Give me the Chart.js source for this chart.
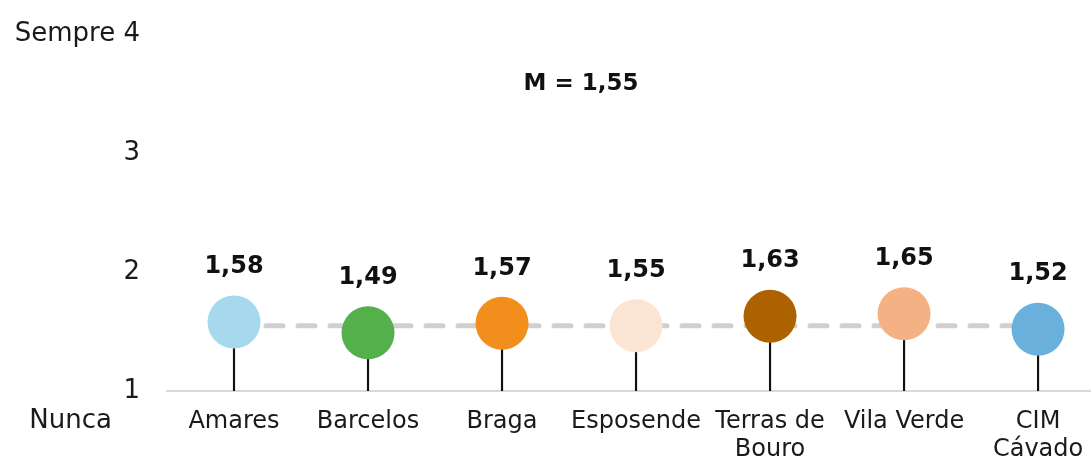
<!DOCTYPE html>
<html>
<head>
<meta charset="utf-8">
<script src="https://cdn.jsdelivr.net/npm/chart.js@4/dist/chart.umd.min.js"></script>
<style>
html,body{margin:0;padding:0;background:#fff;overflow:hidden;}
#wrap{width:1091px;height:459px;position:relative;}
</style>
</head>
<body>
<div id="wrap"><canvas id="c" width="1091" height="459"></canvas></div>
<script>
const categories = [["Amares"],["Barcelos"],["Braga"],["Esposende"],["Terras de","Bouro"],["Vila Verde"],["CIM","Cávado"]];
const values = [1.58, 1.49, 1.57, 1.55, 1.63, 1.65, 1.52];
const valueLabels = ["1,58","1,49","1,57","1,55","1,63","1,65","1,52"];
const colors = ["#a6d8ee","#53b04b","#f28e1c","#fce4d4","#ad6200","#f4b183","#6ab0dc"];
const meanValue = 1.55;
const meanLabel = "M = 1,55";
const yTicks = [1,2,3,4];
const yTickLabels = {1:"1",2:"2",3:"3",4:"Sempre 4"};
const bottomLabel = "Nunca";

const FONT = "'DejaVu Sans', sans-serif";

const textPlugin = {
  id: 'texts',
  afterDatasetsDraw(chart) {
    const ctx = chart.ctx;
    const xs = chart.scales.x, ys = chart.scales.y;
    ctx.save();
    ctx.fillStyle = '#111';
    ctx.textAlign = 'center';
    ctx.textBaseline = 'middle';
    ctx.font = "bold 24px " + FONT;
    values.forEach((v, i) => {
      ctx.fillText(valueLabels[i], xs.getPixelForValue(i), ys.getPixelForValue(v) - 55);
    });
    ctx.font = "bold 23px " + FONT;
    ctx.fillText(meanLabel, 581, 84);
    ctx.font = "26px " + FONT;
    ctx.fillStyle = '#1a1a1a';
    ctx.textAlign = 'right';
    ctx.fillText(bottomLabel, 112, ys.getPixelForValue(1) + 30);
    ctx.restore();
  }
};

new Chart(document.getElementById('c'), {
  type: 'scatter',
  data: {
    datasets: [
      {
        type: 'scatter',
        data: values.map((v, i) => ({x: i, y: v})),
        pointRadius: 26.5,
        pointHoverRadius: 26.5,
        backgroundColor: colors,
        borderWidth: 0,
        order: 0
      },
      {
        type: 'line',
        data: [{x: 0, y: meanValue}, {x: categories.length - 1, y: meanValue}],
        borderColor: '#d0d0d0',
        borderWidth: 5,
        borderDash: [17, 15],
        borderCapStyle: 'round',
        pointRadius: 0,
        fill: false,
        order: 1
      },
      {
        type: 'bar',
        data: values.map((v, i) => ({x: i, y: [1, v]})),
        backgroundColor: '#111',
        barThickness: 1.5,
        order: 2
      }
    ]
  },
  options: {
    responsive: false,
    animation: false,
    events: [],
    layout: { autoPadding: false, padding: { top: 30, right: 0, bottom: 0, left: 0 } },
    plugins: { legend: { display: false }, tooltip: { enabled: false } },
    scales: {
      x: {
        type: 'linear',
        offset: false,
        min: -0.5,
        max: 6.395,
        grid: { display: false },
        border: { display: true, color: '#d9d9d9', width: 2 },
        afterBuildTicks(scale) { scale.ticks = categories.map((c, i) => ({value: i})); },
        afterFit(scale) { scale.height = 68; scale.paddingLeft = 0; scale.paddingRight = 0; },
        ticks: {
          autoSkip: false,
          maxRotation: 0,
          padding: 8,
          color: '#1a1a1a',
          font: { family: FONT, size: 24, lineHeight: 1.2 },
          callback: (v) => categories[v]
        }
      },
      y: {
        type: 'linear',
        min: 1,
        max: 4,
        grid: { display: false },
        border: { display: false },
        afterBuildTicks(scale) { scale.ticks = yTicks.map(v => ({value: v})); },
        afterFit(scale) { scale.width = 167; },
        ticks: {
          padding: 19,
          color: '#1a1a1a',
          font: { family: FONT, size: 26 },
          callback: (v) => yTickLabels[v]
        }
      }
    }
  },
  plugins: [textPlugin]
});
</script>
</body>
</html>
